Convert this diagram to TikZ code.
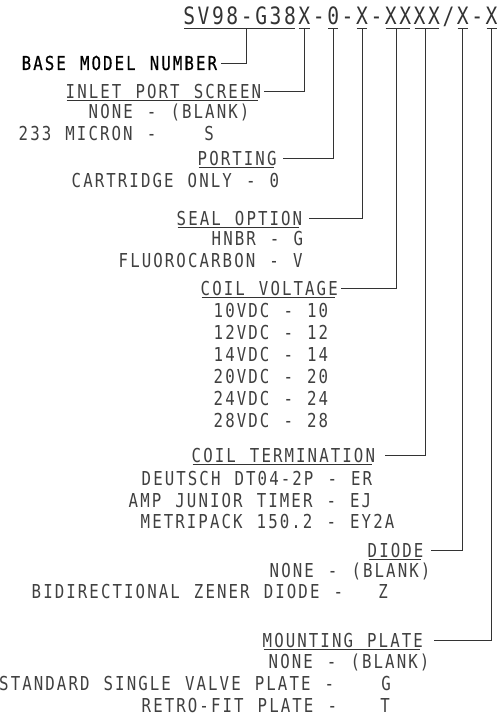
\documentclass[tikz,border=0pt]{standalone}
\usepackage{fontspec}
\newfontfamily\cadfont[FakeStretch=0.82,LetterSpace=10.84,WordSpace=1.2196]{DejaVu Sans Mono}
\newfontfamily\cadbold[FakeStretch=0.82,LetterSpace=10.84,WordSpace=1.2196,FakeBold=0.6]{DejaVu Sans Mono}
\begin{document}
\begin{tikzpicture}[x=1pt,y=-1pt,
  code/.style={inner sep=0pt,anchor=base,text=black!80,font=\cadfont\fontsize{23.92}{26}\selectfont},
  txt/.style={inner sep=0pt,anchor=base west,text=black!75,font=\cadfont\fontsize{19.2}{21}\selectfont},
  val/.style={inner sep=0pt,anchor=base,text=black!75,font=\cadfont\fontsize{19.2}{21}\selectfont},
  basetxt/.style={inner sep=0pt,anchor=base west,text=black,font=\cadbold\fontsize{19.2}{21}\selectfont},
  uline/.style={draw=black!80,line width=0.9pt,shorten <=1pt,shorten >=1pt},
  hline/.style={draw=black!80,line width=0.9pt,shorten <=1pt,shorten >=3pt},
  conn/.style={draw=black!80,line width=0.9pt}]
\fill[white] (0,0) rectangle (498,717);
\useasboundingbox (0,0) rectangle (498,717);
% code string
\foreach \ch [count=\i from 0] in {S,V,9,8,-,G,3,8,X,-,0,-,X,-,X,X,X,X,/,X,-,X}
  \node[code] (c\i) at (182+14.4*\i+7.2,25) {\ch};
\foreach \a/\b in {0/7,8/8,10/10,12/12,14/15,16/17,19/19,21/21}
  \draw[uline] ([yshift=-3pt]c\a.base west) -- ([yshift=-3pt]c\b.base east);
% labels
\node[basetxt] (base) at (21.5,70) {BASE MODEL NUMBER};
\node[txt] (inlet) at (65.5,98) {INLET PORT SCREEN};
\node[txt] (none1) at (88.5,118) {NONE - (BLANK)};
\node[txt] (micron) at (18.5,140) {233 MICRON -};
\node[val] (sval) at (209,140) {S};
\node[txt] (porting) at (197.5,165) {PORTING};
\node[txt] (cart) at (71.5,187) {CARTRIDGE ONLY - 0};
\node[txt] (seal) at (176.5,225) {SEAL OPTION};
\node[txt] (hnbr) at (211.5,245) {HNBR - G};
\node[txt] (fluoro) at (118.5,267) {FLUOROCARBON - V};
\node[txt] (volt) at (200.5,295) {COIL VOLTAGE};
\foreach \v [count=\k from 0] in {10,12,14,20,24,28}
  \node[txt] (v\v) at (213.5,317+22*\k) {\v VDC - \v};
\node[txt] (term) at (191.5,462) {COIL TERMINATION};
\node[txt] (deutsch) at (141.5,485) {DEUTSCH DT04-2P - ER};
\node[txt] (amp) at (128.5,507) {AMP JUNIOR TIMER - EJ};
\node[txt] (metri) at (140.5,528) {METRIPACK 150.2 - EY2A};
\node[txt] (diode) at (367.5,557) {DIODE};
\node[txt] (none2) at (269.5,577) {NONE - (BLANK)};
\node[txt] (bidi) at (31.5,598) {BIDIRECTIONAL ZENER DIODE -};
\node[val] (zval) at (383,598) {Z};
\node[txt] (mount) at (262.5,647) {MOUNTING PLATE};
\node[txt] (none3) at (268.5,668) {NONE - (BLANK)};
\node[txt] (std) at (-1,690) {STANDARD SINGLE VALVE PLATE -};
\node[val] (gval) at (386,690) {G};
\node[txt] (retro) at (141.5,712) {RETRO-FIT PLATE -};
\node[val] (tval) at (385,712) {T};
% heading underlines
\foreach \n in {inlet,porting,seal,volt,term,diode,mount}
  \draw[hline] ([yshift=-2.5pt]\n.base west) -- ([yshift=-2.5pt]\n.base east);
% connectors
\draw[conn] ([yshift=-4pt]c4.base) |- ([xshift=4pt]base.east);
\draw[conn] ([yshift=-4pt]c8.base) |- ([xshift=3pt]inlet.east);
\draw[conn] ([yshift=-4pt]c10.base) |- ([xshift=6pt]porting.east);
\draw[conn] ([yshift=-4pt]c12.base) |- ([xshift=7pt]seal.east);
\draw[conn] ([yshift=-4pt]c14.base east) |- ([xshift=3pt]volt.east);
\draw[conn] ([yshift=-4pt]c16.base east) |- ([xshift=10pt]term.east);
\draw[conn] ([yshift=-4pt]c19.base) |- ([xshift=7pt]diode.east);
\draw[conn] ([yshift=-4pt]c21.base) |- ([xshift=11pt]mount.east);
\end{tikzpicture}
\end{document}
